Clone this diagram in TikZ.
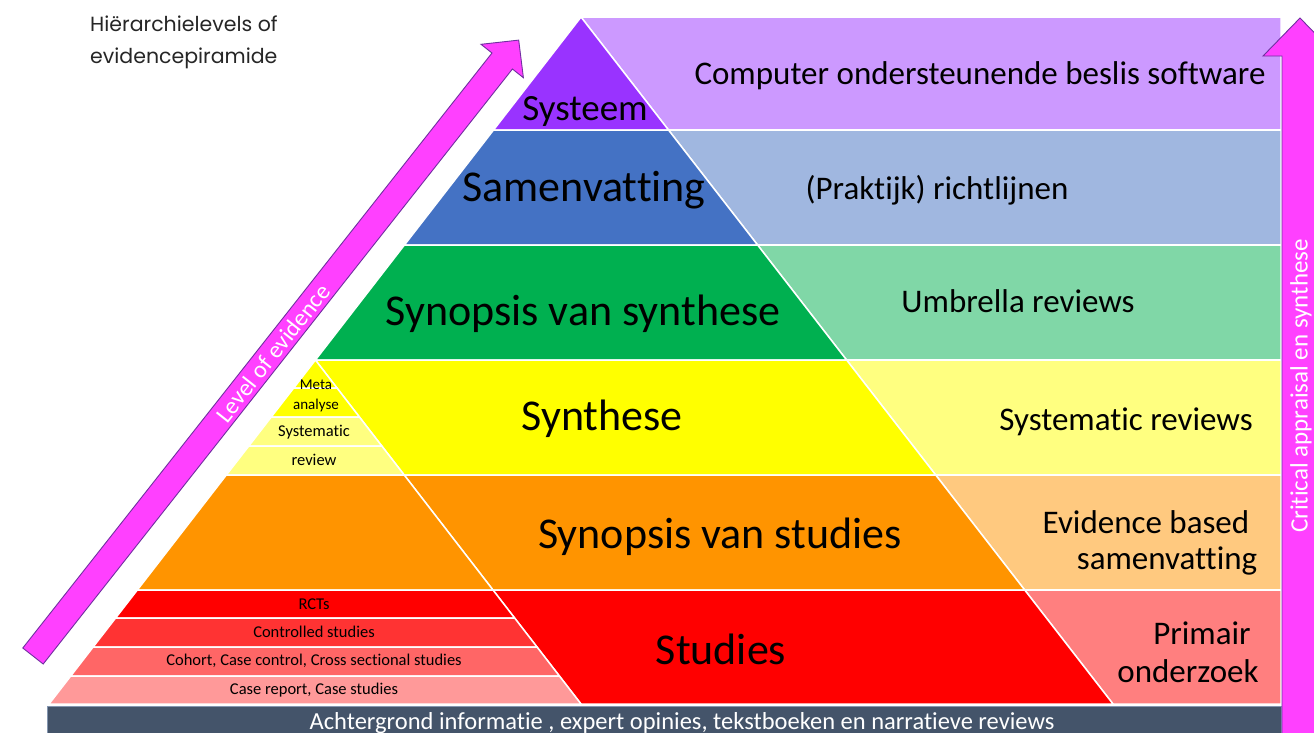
\documentclass[tikz,border=0pt]{standalone}
\usepackage{fontspec}
\setmainfont{Carlito}[Ligatures={NoCommon}]
\newfontfamily\titlefont{Poppins}
\definecolor{cPurple}{HTML}{9933FF}
\definecolor{cPurpleL}{HTML}{CC99FF}
\definecolor{cBlue}{HTML}{4472C4}
\definecolor{cBlueL}{HTML}{A0B7E0}
\definecolor{cGreen}{HTML}{00B050}
\definecolor{cGreenL}{HTML}{80D7A7}
\definecolor{cYellow}{HTML}{FFFF00}
\definecolor{cYellowL}{HTML}{FFFF80}
\definecolor{cOrange}{HTML}{FF9400}
\definecolor{cOrangeL}{HTML}{FFC97F}
\definecolor{cRed}{HTML}{FF0000}
\definecolor{cRedL}{HTML}{FF7F7F}
\definecolor{cRedB}{HTML}{FF3333}
\definecolor{cRedC}{HTML}{FF6666}
\definecolor{cRedD}{HTML}{FF9999}
\definecolor{cBar}{HTML}{44546A}
\definecolor{cBarEdge}{HTML}{8496B0}
\definecolor{cMagenta}{HTML}{FF40FF}
\definecolor{cArrowEdge}{HTML}{7030A0}
\begin{document}
\begin{tikzpicture}[x=1pt,y=-1pt,
  cell/.style={draw=white, line width=1.5pt, line join=round},
  bigarrow/.style={fill=cMagenta, draw=cArrowEdge, line width=0.9pt, line join=miter},
  mainlbl/.style={font=\fontsize{44}{48}\selectfont, text=black, inner sep=0pt},
  sidelbl/.style={font=\fontsize{33}{38}\selectfont, text=black, inner sep=0pt},
  smalllbl/.style={font=\fontsize{16.5}{18}\selectfont, text=black, inner sep=0pt},
  arrowlbl/.style={font=\fontsize{24}{26}\selectfont, text=white, inner sep=0pt}]
\useasboundingbox (0,0) rectangle (1314,732);
\clip (0,0) rectangle (1314,732);
\fill[white] (0,0) rectangle (1314,732);

% right-side light rows
\fill[cell, fill=cPurpleL] (581,17) -- (1281,17) -- (1281,130) -- (668.5,130) -- cycle;
\fill[cell, fill=cBlueL] (668.5,130) -- (1281,130) -- (1281,245) -- (757.6,245) -- cycle;
\fill[cell, fill=cGreenL] (757.6,245) -- (1281,245) -- (1281,360) -- (846.6,360) -- cycle;
\fill[cell, fill=cYellowL] (846.6,360) -- (1281,360) -- (1281,475) -- (935.7,475) -- cycle;
\fill[cell, fill=cOrangeL] (935.7,475) -- (1281,475) -- (1281,590) -- (1024.7,590) -- cycle;
\fill[cell, fill=cRedL] (1024.7,590) -- (1281,590) -- (1281,704) -- (1113,704) -- cycle;
\draw[cell] (581,17) -- (1281,17);
\draw[cell] (668.5,130) -- (1281,130);
\draw[cell] (757.6,245) -- (1281,245);
\draw[cell] (846.6,360) -- (1281,360);
\draw[cell] (935.7,475) -- (1281,475);
\draw[cell] (1024.7,590) -- (1281,590);

% main pyramid
\filldraw[cell, fill=cPurple] (581,17) -- (668.5,130) -- (493.5,130) -- cycle;
\filldraw[cell, fill=cBlue] (493.5,130) -- (668.5,130) -- (757.6,245) -- (404.4,245) -- cycle;
\filldraw[cell, fill=cGreen] (404.4,245) -- (757.6,245) -- (846.6,360) -- (315.4,360) -- cycle;
\filldraw[cell, fill=cYellow] (315.4,360) -- (846.6,360) -- (935.7,475) -- (404.2,475) -- cycle;
\filldraw[cell, fill=cOrange] (404.2,475) -- (935.7,475) -- (1024.7,590) -- (493,590) -- cycle;
\filldraw[cell, fill=cRed] (493,590) -- (1024.7,590) -- (1113,704) -- (581,704) -- cycle;

% left sub-pyramid
\filldraw[cell, fill=cYellow] (315.4,360) -- (337.0,388) -- (293.7,388) -- cycle;
\filldraw[cell, fill=cYellow] (293.7,388) -- (337.0,388) -- (359.4,417) -- (271.2,417) -- cycle;
\filldraw[cell, fill=cYellowL] (271.2,417) -- (359.4,417) -- (381.8,446) -- (248.8,446) -- cycle;
\filldraw[cell, fill=cYellowL] (248.8,446) -- (381.8,446) -- (404.2,475) -- (226.3,475) -- cycle;
\filldraw[cell, fill=cOrange] (226.3,475) -- (404.2,475) -- (493,590) -- (137.3,590) -- cycle;
\filldraw[cell, fill=cRed] (137.3,590) -- (493,590) -- (514.6,618) -- (115.6,618) -- cycle;
\filldraw[cell, fill=cRedB] (115.6,618) -- (514.6,618) -- (537.0,647) -- (93.1,647) -- cycle;
\filldraw[cell, fill=cRedC] (93.1,647) -- (537.0,647) -- (559.4,676) -- (70.7,676) -- cycle;
\filldraw[cell, fill=cRedD] (70.7,676) -- (559.4,676) -- (581,704) -- (49,704) -- cycle;

% bottom bar
\filldraw[fill=cBar, draw=cBarEdge, line width=0.8pt] (47,706.5) rectangle (1281,740);
\node[font=\fontsize{24.5}{26}\selectfont, text=white, anchor=base, inner sep=0pt] (bar) at (682,729)
  {Achtergrond informatie , expert opinies, tekstboeken en narratieve reviews};

% right vertical arrow
\filldraw[bigarrow] (1300,18) -- (1337,56) -- (1318,56) -- (1318,745) -- (1282,745) -- (1282,56) -- (1263,56) -- cycle;
\node[font=\fontsize{25}{28}\selectfont, text=white, rotate=90, inner sep=0pt] (crit) at (1301,386)
  {Critical appraisal en synthese};

% diagonal arrow
\filldraw[bigarrow] (22.8,648) -- (492,53) -- (481,44.3) -- (518.7,40.1) -- (523.4,77.7) -- (512.4,69) -- (43.2,664) -- cycle;
\node[arrowlbl, rotate=51.7] (loe) at (273,353) {Level of evidence};

% top-left title
\node[font=\titlefont\fontsize{20.5}{32}\selectfont, text=black!85, anchor=base west, inner sep=0pt] (title) at (90,31)
  {Hiërarchielevels of};
\node[font=\titlefont\fontsize{20.5}{32}\selectfont, text=black!85, anchor=base west, inner sep=0pt] (title2) at (90,63)
  {evidencepiramide};

% main labels
\node[mainlbl, font=\fontsize{37}{40}\selectfont, anchor=base] (sys) at (585,120) {Systeem};
\node[mainlbl] (sam) at (584,190) {Samenvatting};
\node[mainlbl] (sps) at (583,314) {Synopsis van synthese};
\node[mainlbl] (syn) at (602,419) {Synthese};
\node[mainlbl] (spst) at (720,537) {Synopsis van studies};
\node[mainlbl] (stu) at (721,649) {Studies};

% side labels
\node[sidelbl] (cds) at (980,76) {Computer ondersteunende beslis software};
\node[sidelbl] (pr) at (937,190) {(Praktijk) richtlijnen};
\node[sidelbl] (umb) at (1018,301) {Umbrella reviews};
\node[sidelbl] (sr) at (1126,422) {Systematic reviews};
\node[sidelbl] (eb1) at (1146,522) {Evidence based};
\node[sidelbl] (eb2) at (1167,561) {samenvatting};
\node[sidelbl] (pri1) at (1202,633) {Primair};
\node[sidelbl] (pri2) at (1188,671) {onderzoek};

% small labels
\node[smalllbl, font=\fontsize{15}{16}\selectfont] (meta1) at (316,385) {Meta};
\node[smalllbl, font=\fontsize{15}{16}\selectfont] (meta2) at (316,405) {analyse};
\node[smalllbl] (sysr1) at (314,432) {Systematic};
\node[smalllbl] (sysr2) at (314,460) {review};
\node[smalllbl] (rct) at (314,604) {RCTs};
\node[smalllbl] (ctl) at (314,632) {Controlled studies};
\node[smalllbl] (coh) at (314,661) {Cohort, Case control, Cross sectional studies};
\node[smalllbl] (cr) at (314,690) {Case report, Case studies};
\end{tikzpicture}
\end{document}
